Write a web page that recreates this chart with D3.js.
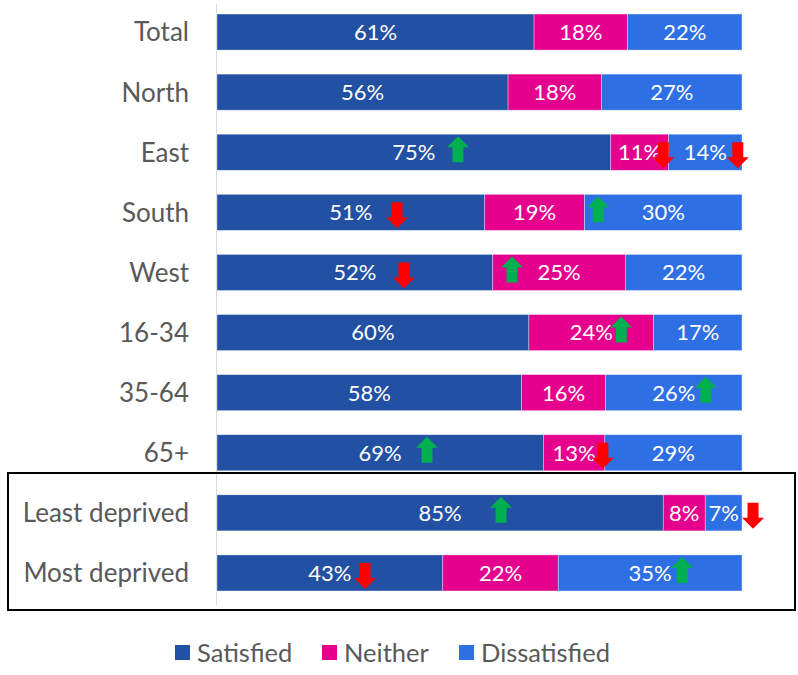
<!DOCTYPE html>
<html>
<head>
<meta charset="utf-8">
<script src="https://cdn.jsdelivr.net/npm/d3@7"></script>
<style>
  html, body { margin: 0; padding: 0; background: #fff; }
  svg { display: block; }
  text { font-family: Lato, "Open Sans", sans-serif; }
</style>
</head>
<body>
<svg id="chart" width="798" height="675"></svg>
<script>
const categories = ["Total", "North", "East", "South", "West", "16-34", "35-64", "65+", "Least deprived", "Most deprived"];
const seriesNames = ["Satisfied", "Neither", "Dissatisfied"];
const satisfied    = [61, 56, 75, 51, 52, 60, 58, 69, 85, 43];
const neither      = [18, 18, 11, 19, 25, 24, 16, 13, 8, 22];
const dissatisfied = [22, 27, 14, 30, 22, 17, 26, 29, 7, 35];
const colors = ["#2251A4", "#E5008D", "#2E6FE4"];

// significance arrows: category, direction, position along the bar (share of bar length)
const arrowCategory = ["East", "East", "East", "South", "South", "West", "West", "16-34", "35-64", "65+", "65+", "Least deprived", "Least deprived", "Most deprived", "Most deprived"];
const arrowDirection = ["up", "down", "down", "down", "up", "down", "up", "up", "up", "up", "down", "up", "down", "down", "up"];
const arrowPosition = [0.459, 0.850, 0.992, 0.343, 0.726, 0.356, 0.562, 0.770, 0.931, 0.400, 0.735, 0.541, 1.021, 0.282, 0.886];

const svg = d3.select("#chart");
const x = d3.scaleLinear().domain([0, 1]).range([217, 742]);
const y = d3.scaleBand().domain(categories).range([2, 603]).paddingInner(0.4).paddingOuter(0.2);

const table = categories.map((c, i) => ({ cat: c, Satisfied: satisfied[i], Neither: neither[i], Dissatisfied: dissatisfied[i] }));
const stack = d3.stack().keys(seriesNames).offset(d3.stackOffsetExpand);
const layers = stack(table);

// axis line
svg.append("line")
  .attr("x1", x(0) - 0.5).attr("x2", x(0) - 0.5)
  .attr("y1", 4).attr("y2", 605)
  .attr("stroke", "#D9D9D9").attr("stroke-width", 1);

const g = svg.append("g");
layers.forEach((layer, li) => {
  const lg = g.append("g");
  lg.selectAll("rect").data(layer).enter().append("rect")
    .attr("x", d => x(d[0]))
    .attr("width", d => x(d[1]) - x(d[0]))
    .attr("y", d => y(d.data.cat))
    .attr("height", y.bandwidth())
    .attr("fill", colors[li])
    .attr("stroke", "#ffffff").attr("stroke-opacity", 0.5).attr("stroke-width", 0.7);
  lg.selectAll("text").data(layer).enter().append("text")
    .attr("x", d => (x(d[0]) + x(d[1])) / 2)
    .attr("y", d => y(d.data.cat) + y.bandwidth() / 2)
    .attr("dy", "0.36em")
    .attr("text-anchor", "middle")
    .attr("fill", "#ffffff")
    .attr("font-size", 22)
    .text(d => d.data[seriesNames[li]] + "%");
});

// category labels
svg.append("g").selectAll("text").data(categories).enter().append("text")
  .attr("x", 189)
  .attr("y", d => y(d) + y.bandwidth() / 2)
  .attr("dy", "0.36em")
  .attr("text-anchor", "end")
  .attr("fill", "#595959")
  .attr("font-size", 26)
  .text(d => d);

// arrows
const arrowPath = d3.path();
// up arrow centred at 0,0: total height 26, head width 22, shaft width 11, head height 11
arrowPath.moveTo(0, -13);
arrowPath.lineTo(11, -2);
arrowPath.lineTo(5.5, -2);
arrowPath.lineTo(5.5, 13);
arrowPath.lineTo(-5.5, 13);
arrowPath.lineTo(-5.5, -2);
arrowPath.lineTo(-11, -2);
arrowPath.closePath();
const arrowD = arrowPath.toString();

svg.append("g").selectAll("path").data(arrowCategory.map((c, i) => ({ c, dir: arrowDirection[i], p: arrowPosition[i] })))
  .enter().append("path")
  .attr("d", arrowD)
  .attr("fill", d => d.dir === "up" ? "#00B050" : "#FF0000")
  .attr("transform", d => {
    const cy = y(d.c) + y.bandwidth() / 2;
    return d.dir === "up"
      ? `translate(${x(d.p)},${cy - 3})`
      : `translate(${x(d.p)},${cy + 3}) rotate(180)`;
  });

// highlight box
svg.append("rect")
  .attr("x", 8).attr("y", 473)
  .attr("width", 787).attr("height", 137)
  .attr("fill", "none").attr("stroke", "#000").attr("stroke-width", 2);

// legend
const legendX = [175, 322, 459];
const lg = svg.append("g").selectAll("g").data(seriesNames).enter().append("g")
  .attr("transform", (d, i) => `translate(${legendX[i]},645)`);
lg.append("rect").attr("width", 15).attr("height", 15).attr("fill", (d, i) => colors[i]);
lg.append("text").attr("x", 22).attr("y", 7.5).attr("dy", "0.36em")
  .attr("fill", "#595959").attr("font-size", 25.5).text(d => d);
</script>
</body>
</html>
